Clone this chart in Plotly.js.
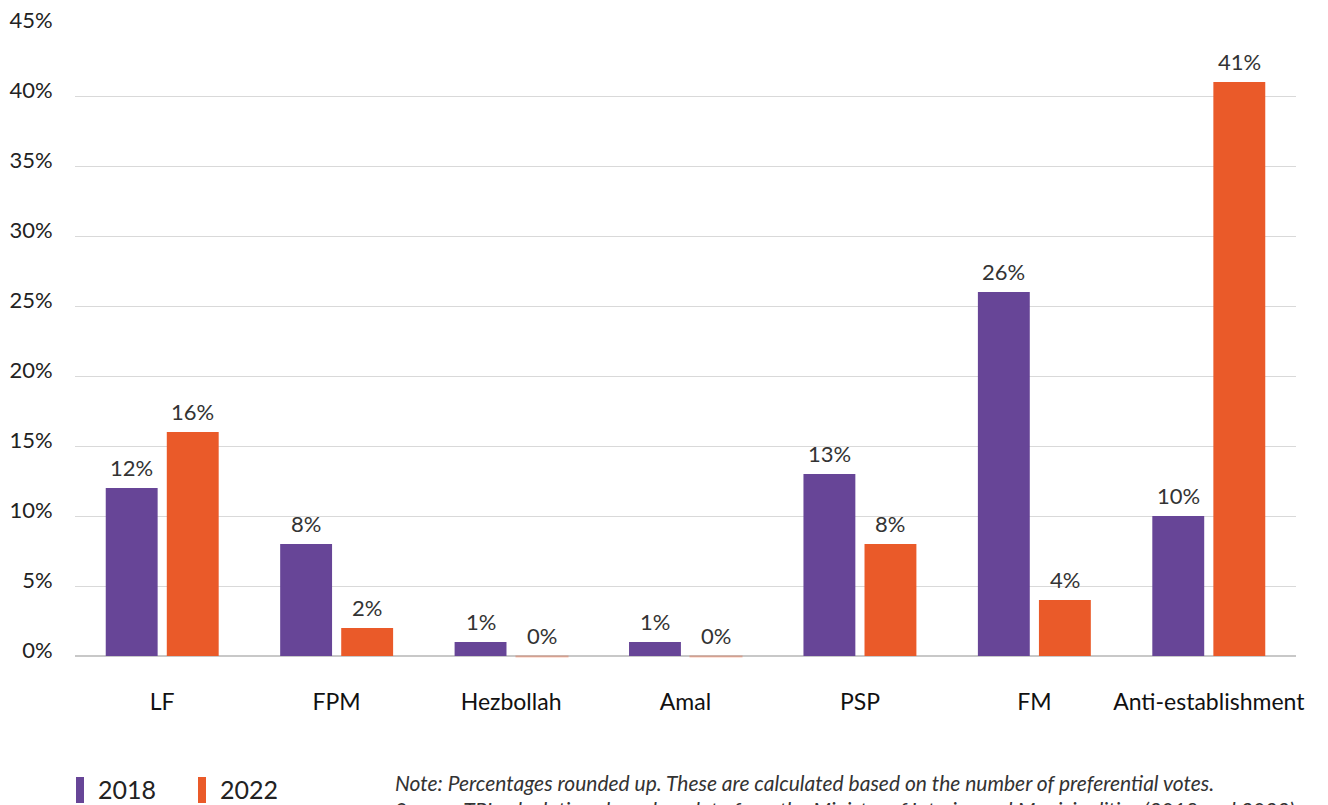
<!DOCTYPE html>
<html>
<head>
<meta charset="utf-8">
<script src="https://cdn.plot.ly/plotly-3.0.1.min.js"></script>
<style>html,body{margin:0;padding:0;background:#fff;}#chart{width:1328px;height:805px;}</style>
</head>
<body>
<div id="chart"></div>
<script>
const categories = ["LF", "FPM", "Hezbollah", "Amal", "PSP", "FM", "Anti-establishment"];
const values2018 = [12, 8, 1, 1, 13, 26, 10];
const values2022 = [16, 2, 0, 0, 8, 4, 41];
const yTickVals = [0, 5, 10, 15, 20, 25, 30, 35, 40, 45];
const yTickText = ["0%", "5%", "10%", "15%", "20%", "25%", "30%", "35%", "40%", "45%"];
const seriesNames = ["2018", "2022"];
const colors = ["#674597", "#EA5A29"];

const W = 1328, H = 805;
const M = {l: 75, r: 32, t: 26, b: 149};
const pw = W - M.l - M.r, ph = H - M.t - M.b;
const px = x => (x - M.l) / pw;
const py = y => (H - M.b - y) / ph;

const FONT = "Lato, 'Source Sans Pro', sans-serif";
const BARGAP = 0.30, GROUPGAP = 0.15;
const catW = pw / categories.length;
const slotW = catW * (1 - BARGAP) / 2;

const traces = [values2018, values2022].map((vals, i) => ({
  type: "bar",
  name: seriesNames[i],
  x: categories,
  y: vals,
  marker: {color: colors[i]},
  hoverinfo: "x+y"
}));

const shapes = [];
const annotations = [];
// data labels, placed through the axes' scales
[values2018, values2022].forEach((vals, i) => {
  vals.forEach((v, j) => {
    annotations.push({xref: "x", yref: "y", x: categories[j], y: v,
      xshift: (i === 0 ? -1 : 1) * slotW / 2, yshift: 5,
      xanchor: "center", yanchor: "bottom", showarrow: false,
      text: v + "%", font: {family: FONT, size: 22, color: "#333"}});
  });
});
// thin trace of zero-height bars on the baseline
values2022.forEach((v, j) => {
  if (v === 0) {
    annotations.push({xref: "x", yref: "y", x: categories[j], y: 0,
      xshift: slotW / 2, yshift: 0, xanchor: "center", yanchor: "middle",
      showarrow: false, text: "", width: slotW * (1 - GROUPGAP), height: 1,
      bgcolor: "rgba(234,90,41,0.35)", borderpad: 0});
  }
});
const legendX = [76, 198];
seriesNames.forEach((n, i) => {
  shapes.push({type: "rect", xref: "paper", yref: "paper",
    x0: px(legendX[i]), x1: px(legendX[i] + 8), y0: py(803), y1: py(777),
    fillcolor: colors[i], line: {width: 0}});
  annotations.push({xref: "paper", yref: "paper", x: px(legendX[i] + 20), y: py(789),
    xanchor: "left", yanchor: "middle", showarrow: false, text: n,
    font: {family: FONT, size: 25, color: "#222"}});
});
annotations.push({xref: "paper", yref: "paper", x: px(393), y: py(768),
  xanchor: "left", yanchor: "top", align: "left", showarrow: false,
  text: "<i>Note: Percentages rounded up. These are calculated based on the number of preferential votes.</i><br><i>Source: TPI calculations based on data from the Ministry of Interior and Municipalities (2018 and 2022)</i>",
  font: {family: FONT, size: 21, color: "#333"}});

const layout = {
  width: W, height: H,
  margin: M,
  paper_bgcolor: "#fff", plot_bgcolor: "#fff",
  showlegend: false,
  barmode: "group",
  bargap: BARGAP,
  bargroupgap: GROUPGAP,
  font: {family: FONT, size: 22, color: "#222"},
  xaxis: {
    type: "category",
    tickfont: {family: FONT, size: 23, color: "#111"},
    ticks: "outside", ticklen: 25, tickcolor: "rgba(0,0,0,0)",
    showline: false, showgrid: false, fixedrange: true
  },
  yaxis: {
    range: [0, 45],
    tickvals: yTickVals, ticktext: yTickText,
    tickfont: {family: FONT, size: 22, color: "#222"},
    ticks: "outside", ticklen: 17, tickcolor: "rgba(0,0,0,0)",
    ticklabelshift: -6,
    gridcolor: "#d9d9d9", gridwidth: 1,
    zeroline: true, zerolinecolor: "#c8c8c8", zerolinewidth: 1.5,
    showline: false, fixedrange: true
  },
  shapes: shapes,
  annotations: annotations
};

Plotly.newPlot("chart", traces, layout, {displayModeBar: false, staticPlot: true});
</script>
</body>
</html>
